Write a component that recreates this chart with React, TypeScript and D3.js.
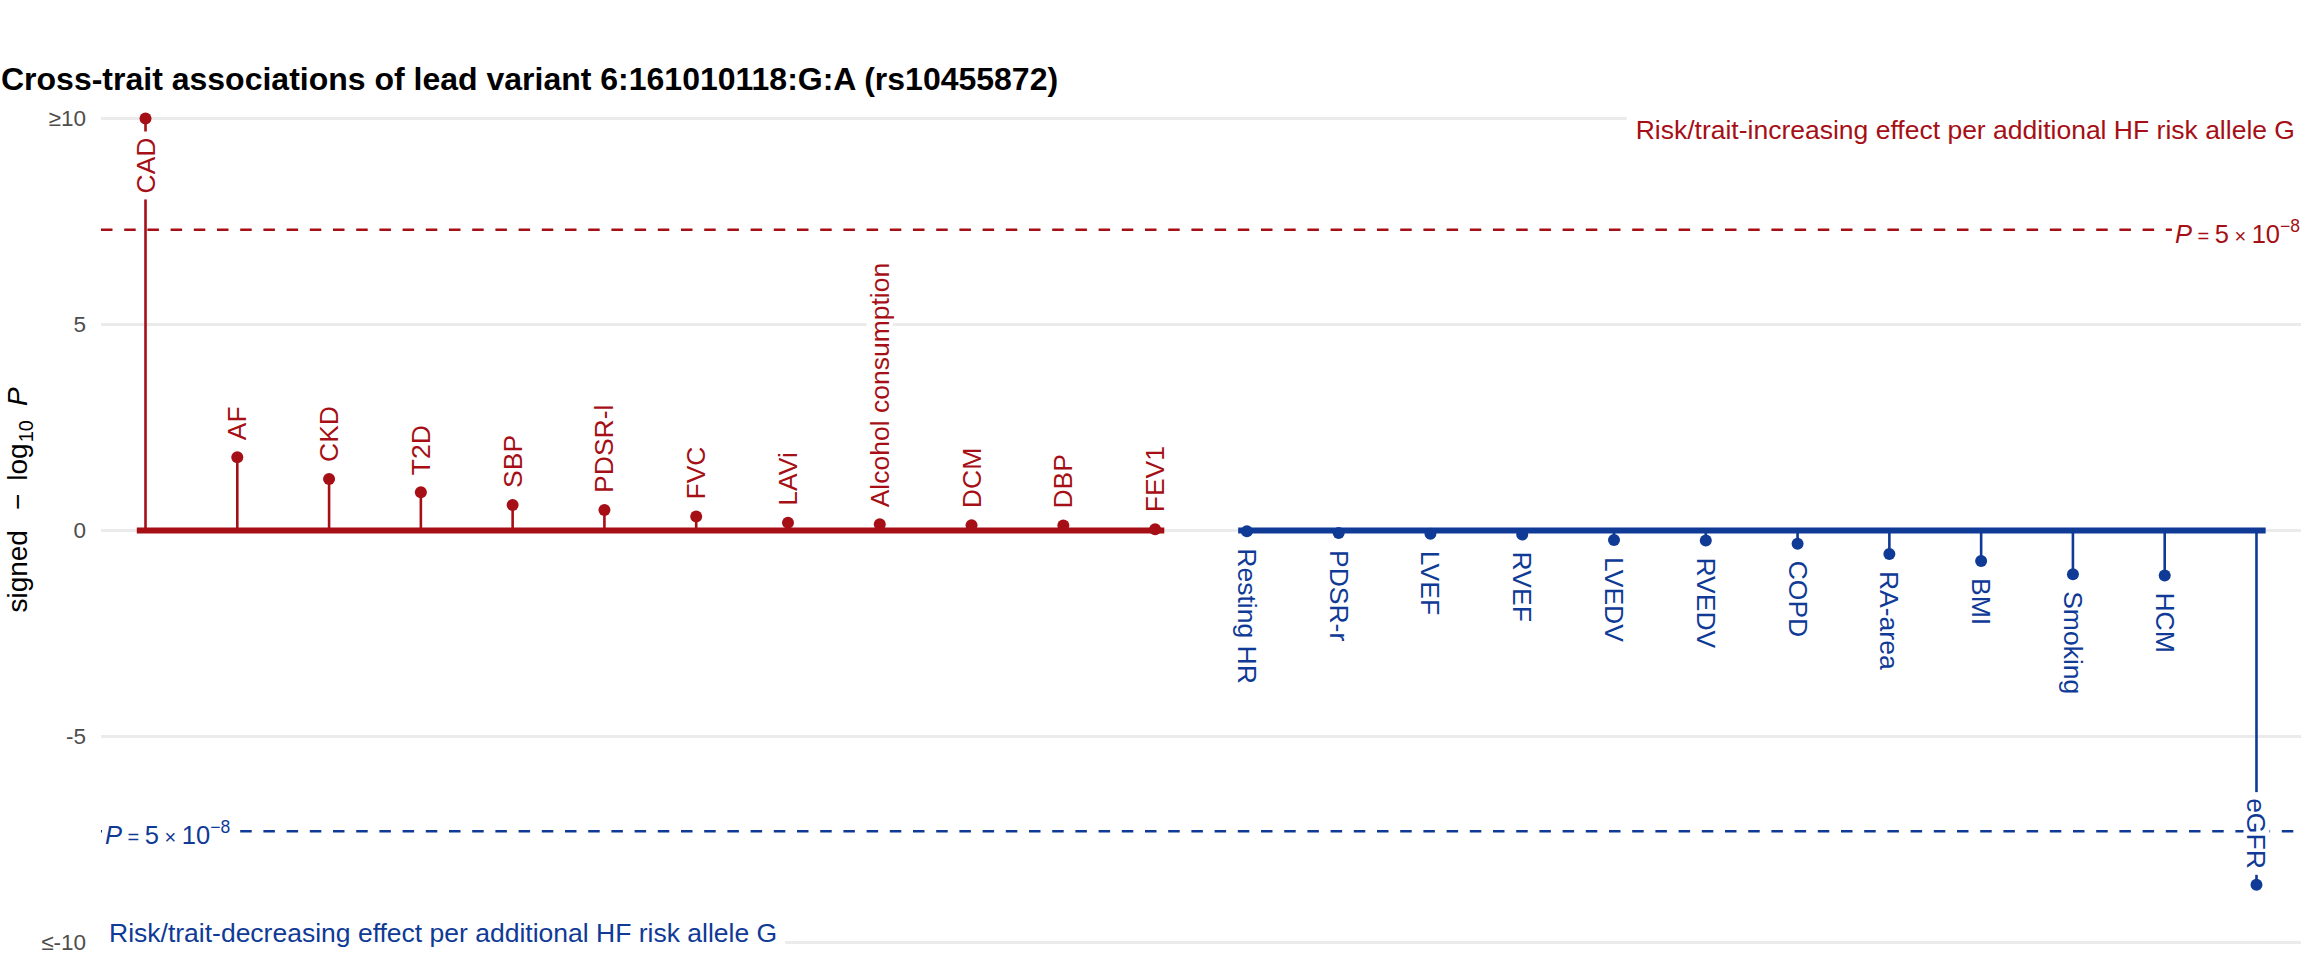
import React, { useEffect, useRef } from "react";
import * as d3 from "d3";

// ---------------- data ----------------
const traits = [
  "CAD", "AF", "CKD", "T2D", "SBP", "PDSR-l", "FVC", "LAVi", "Alcohol consumption", "DCM", "DBP", "FEV1",
  "Resting HR", "PDSR-r", "LVEF", "RVEF", "LVEDV", "RVEDV", "COPD", "RA-area", "BMI", "Smoking", "HCM", "eGFR",
];
// signed -log10 P (capped at +/-10)
const signedLogP = [
  10, 1.78, 1.25, 0.93, 0.62, 0.5, 0.34, 0.19, 0.15, 0.13, 0.12, 0.03,
  -0.02, -0.06, -0.08, -0.1, -0.23, -0.24, -0.32, -0.57, -0.74, -1.06, -1.09, -8.6,
];
const yTickValues = [-10, -5, 0, 5, 10];
const yTickLabels = ["≤-10", "-5", "0", "5", "≥10"];
const gwsP = 5e-8;
const titleText = "Cross-trait associations of lead variant 6:161010118:G:A (rs10455872)";
const upLabel = "Risk/trait-increasing effect per additional HF risk allele G";
const downLabel = "Risk/trait-decreasing effect per additional HF risk allele G";

// ---------------- style ----------------
const W = 2304;
const H = 960;
const RED = "#A50F15";
const BLUE = "#0F3A96";
const FONT = "'Liberation Sans', Arial, Helvetica, sans-serif";
const LABEL_SIZE = 26.5;

export default function App() {
  const ref = useRef<SVGSVGElement>(null);

  useEffect(() => {
    const svg = d3.select(ref.current);
    svg.selectAll("*").remove();

    const panelL = 101;
    const panelR = 2301;
    const x = d3.scalePoint<string>().domain(traits).range([panelL, panelR]).padding(0.485);
    const y = d3.scaleLinear().domain([-10, 10]).range([942.5, 118.5]);
    const step = x.step();
    const data = traits.map((t, i) => ({ t, v: signedLogP[i] }));
    const col = (v: number) => (v >= 0 ? RED : BLUE);

    svg.append("rect").attr("width", W).attr("height", H).attr("fill", "#fff");

    // gridlines
    svg.append("g").selectAll("line").data(yTickValues).join("line")
      .attr("x1", panelL).attr("x2", panelR)
      .attr("y1", (d) => y(d)).attr("y2", (d) => y(d))
      .attr("stroke", "#EBEBEB").attr("stroke-width", 3);

    // tick labels
    svg.append("g").selectAll("text").data(yTickValues).join("text")
      .attr("x", 86).attr("y", (d) => y(d))
      .attr("text-anchor", "end").attr("dominant-baseline", "central")
      .attr("font-family", FONT).attr("font-size", 22.5).attr("fill", "#4D4D4D")
      .text((d, i) => yTickLabels[i]);

    // significance lines
    const thr = -Math.log10(gwsP);
    [thr, -thr].forEach((v) => {
      svg.append("line")
        .attr("x1", panelL).attr("x2", panelR)
        .attr("y1", y(v)).attr("y2", y(v))
        .attr("stroke", col(v)).attr("stroke-width", 2.6)
        .attr("stroke-dasharray", "11.5 11.7");
    });

    // stems
    svg.append("g").selectAll("line").data(data).join("line")
      .attr("x1", (d) => x(d.t)!).attr("x2", (d) => x(d.t)!)
      .attr("y1", y(0)).attr("y2", (d) => y(d.v))
      .attr("stroke", (d) => col(d.v)).attr("stroke-width", 2.6);

    // baselines per direction
    const groups = [data.filter((d) => d.v >= 0), data.filter((d) => d.v < 0)];
    groups.forEach((g) => {
      const xs = g.map((d) => x(d.t)!);
      svg.append("line")
        .attr("x1", d3.min(xs)! - 0.095 * step).attr("x2", d3.max(xs)! + 0.1 * step)
        .attr("y1", y(0)).attr("y2", y(0))
        .attr("stroke", col(g[0].v)).attr("stroke-width", 6);
    });

    // dots
    svg.append("g").selectAll("circle").data(data).join("circle")
      .attr("cx", (d) => x(d.t)!).attr("cy", (d) => y(d.v)).attr("r", 6)
      .attr("fill", (d) => col(d.v));

    // trait labels with white boxes
    const lg = svg.append("g");
    data.forEach((d) => {
      const cx = x(d.t)!;
      const cy = y(d.v);
      const pos = d.v >= 0;
      const nearCap = Math.abs(d.v) > 8;
      let ay: number;
      const anchor = nearCap ? "end" : "start";
      if (pos) {
        ay = nearCap ? cy + 19 : cy - 17;
      } else {
        ay = nearCap ? cy - 16 : cy + 17;
      }
      const g = lg.append("g").attr("transform", `translate(${cx},${ay}) rotate(${pos ? -90 : 90})`);
      const rect = g.append("rect");
      const txt = g.append("text")
        .attr("x", 0).attr("y", 0)
        .attr("text-anchor", anchor).attr("dominant-baseline", "central")
        .attr("font-family", FONT).attr("font-size", LABEL_SIZE)
        .attr("fill", col(d.v)).text(d.t);
      const len = (txt.node() as SVGTextElement).getComputedTextLength();
      const pad = 6;
      const x0 = anchor === "start" ? -pad : -len - pad;
      rect.attr("x", x0).attr("y", -13).attr("width", len + 2 * pad).attr("height", 26).attr("fill", "#fff");
    });

    // helper for boxed text
    const boxed = (node: any, padX: number, padY: number) => {
      const bb = node.node()!.getBBox();
      (svg as any).insert("rect", () => node.node())
        .attr("x", bb.x - padX).attr("y", bb.y - padY)
        .attr("width", bb.width + 2 * padX).attr("height", bb.height + 2 * padY)
        .attr("fill", "#fff");
    };

    // P labels
    const pLabel = (v: number, xPos: number, anchor: string) => {
      const t = svg.append("text")
        .attr("x", xPos).attr("y", y(v) + 13)
        .attr("text-anchor", anchor)
        .attr("font-family", FONT).attr("font-size", 25.5).attr("fill", col(v));
      t.append("tspan").attr("font-style", "italic").text("P");
      t.append("tspan").attr("font-size", 20).text(" = ");
      t.append("tspan").text("5");
      t.append("tspan").attr("font-size", 20).text(" × ");
      t.append("tspan").text("10");
      t.append("tspan").attr("font-size", 17.5).attr("dy", -11).text("−8");
      boxed(t, 3, 1);
    };
    pLabel(thr, 2300, "end");
    pLabel(-thr, 105, "start");

    // direction annotations
    const up = svg.append("text")
      .attr("x", 2295).attr("y", 139).attr("text-anchor", "end")
      .attr("font-family", FONT).attr("font-size", LABEL_SIZE).attr("fill", RED).text(upLabel);
    boxed(up, 9, 3);
    const down = svg.append("text")
      .attr("x", 109).attr("y", 942).attr("text-anchor", "start")
      .attr("font-family", FONT).attr("font-size", LABEL_SIZE).attr("fill", BLUE).text(downLabel);
    boxed(down, 8, 3);

    // title
    svg.append("text")
      .attr("x", 1).attr("y", 90)
      .attr("font-family", FONT).attr("font-size", 32).attr("font-weight", "bold").attr("fill", "#000")
      .text(titleText);

    // y axis title
    const yt = svg.append("text")
      .attr("transform", `translate(27,500) rotate(-90)`)
      .attr("text-anchor", "middle")
      .attr("font-family", FONT).attr("font-size", 28).attr("fill", "#000");
    yt.append("tspan").text("signed");
    yt.append("tspan").attr("dx", 20).text("−");
    yt.append("tspan").attr("dx", 13).text("log");
    yt.append("tspan").attr("font-size", 20).attr("dy", 6).attr("dx", 1).text("10");
    yt.append("tspan").attr("font-style", "italic").attr("dy", -6).attr("dx", 14).text("P");
  }, []);

  return (
    <svg
      ref={ref}
      width={W}
      height={H}
      style={{ position: "absolute", left: 0, top: 0, display: "block" }}
    />
  );
}
